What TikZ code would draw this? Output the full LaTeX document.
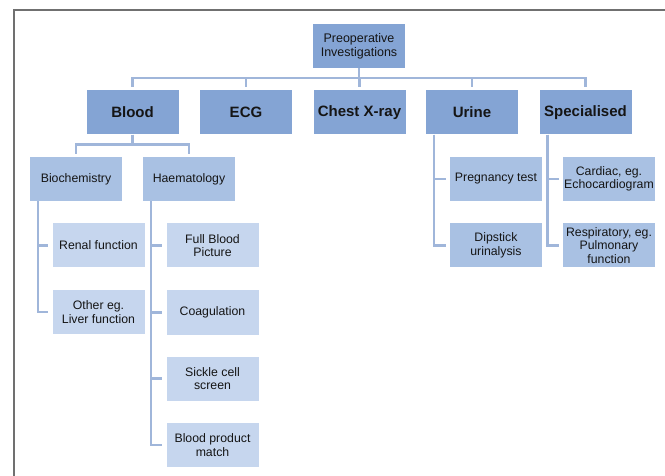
\documentclass[tikz,border=0pt]{standalone}
\usepackage{fontspec}
\setmainfont{Liberation Sans}
\definecolor{lvA}{HTML}{84A4D4}
\definecolor{lvB}{HTML}{A9C1E3}
\definecolor{lvC}{HTML}{C6D6EE}
\definecolor{lnC}{HTML}{A0B6DA}
\definecolor{frameC}{HTML}{707070}
\definecolor{txtC}{HTML}{151515}
\begin{document}
\begin{tikzpicture}[x=1pt,y=-1pt,
  boxbase/.style={rectangle,inner sep=0pt,minimum width=92pt,minimum height=44pt,align=center,text=txtC},
  rootbox/.style={boxbase,fill=lvA,font=\fontsize{12.5}{14}\selectfont},
  topbox/.style={boxbase,fill=lvA,font=\fontsize{15}{16}\selectfont\bfseries},
  midbox/.style={boxbase,fill=lvB,font=\fontsize{12.3}{13.6}\selectfont},
  leafbox/.style={boxbase,fill=lvC,font=\fontsize{12.3}{13.6}\selectfont},
  conn/.style={draw=lnC,line width=2.6pt},
  frameline/.style={draw=frameC,line width=1.4pt}]
\useasboundingbox (0,0) rectangle (665,476);
\draw[frameline] (14,477) -- (14,10) -- (666,10);

\node[rootbox] (root) at (359,46) {Preoperative\\Investigations};

\node[topbox] (blood) at (132.5,112.5) {Blood};
\node[topbox] (ecg) at (246,112.5) {ECG};
\node[topbox] (chest) at (359.5,112.5) {Chest X-ray};
\node[topbox] (urine) at (472,112.5) {Urine};
\node[topbox] (spec) at (585.5,112.5) {Specialised};

\node[midbox] (bio) at (76,179) {Biochemistry};
\node[midbox] (haem) at (189,179) {Haematology};

\node[leafbox] (renal) at (98.5,245.5) {Renal function};
\node[leafbox] (other) at (98.5,312) {Other eg.\\Liver function};

\node[leafbox] (fbp) at (212.5,245.5) {Full Blood\\Picture};
\node[leafbox] (coag) at (212.5,312.5) {Coagulation};
\node[leafbox] (sickle) at (212.5,378.5) {Sickle cell\\screen};
\node[leafbox] (bpm) at (212.5,445) {Blood product\\match};

\node[midbox] (preg) at (496,179) {Pregnancy test};
\node[midbox] (dip) at (496,245.5) {Dipstick\\urinalysis};

\node[midbox] (card) at (609,179) {Cardiac, eg.\\Echocardiogram};
\node[midbox] (resp) at (609,245.5) {Respiratory, eg.\\Pulmonary\\function};

% top-level bus
\foreach \c in {blood,ecg,chest,urine,spec}
  \draw[conn,shorten >=3pt] (root.south) -- ++(0,10) -| (\c.north);
% blood bus
\foreach \c in {bio,haem}
  \draw[conn,shorten >=3pt] (blood.south) -- ++(0,10) -| (\c.north);
% side trees
\foreach \p/\c in {bio/renal,bio/other,haem/fbp,haem/coag,haem/sickle,haem/bpm,urine/preg,urine/dip,spec/card,spec/resp}
  \draw[conn,shorten >=4pt] ([xshift=8pt]\p.south west) |- (\c.west);
\end{tikzpicture}
\end{document}
